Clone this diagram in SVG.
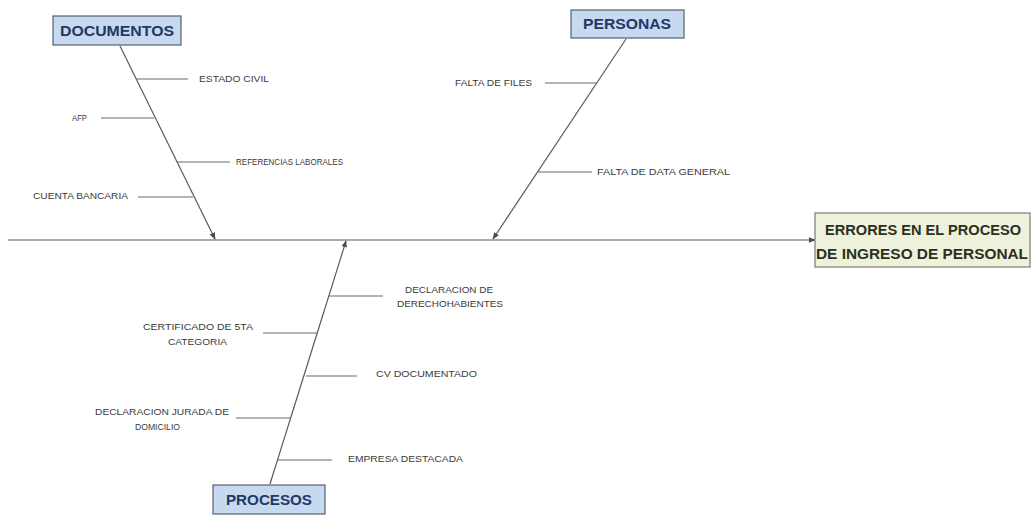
<svg xmlns="http://www.w3.org/2000/svg" width="1034" height="517" viewBox="0 0 1034 517">
  <style>
    .line { stroke: #5a5a5a; stroke-width: 1.2; fill: none; }
    .rib { stroke: #6a6a6a; stroke-width: 1.2; }
    .lbl { font-family: "Liberation Sans", Arial, sans-serif; font-size: 8.5px; fill: #3a3a3a; }
    .cat rect { fill: #c6d9f0; stroke: #55606e; stroke-width: 1.2; }
    .cat text { font-family: "Liberation Sans", Arial, sans-serif; font-weight: bold; font-size: 14px; fill: #1f3864; }
    .head rect { fill: #eef1dc; stroke: #7c7f6a; stroke-width: 1.2; }
    .head text { font-family: "Liberation Sans", Arial, sans-serif; font-weight: bold; font-size: 14px; fill: #2b2f1c; }
  </style>
  <defs>
    <marker id="arrow" viewBox="0 0 10 10" refX="9" refY="5" markerWidth="7" markerHeight="7" orient="auto" markerUnits="userSpaceOnUse">
      <path d="M0,1 L10,5 L0,9 Z" fill="#4a4a4a"/>
    </marker>
  </defs>
  <rect width="1034" height="517" fill="#ffffff"/>

  <!-- connectors: spine, category bones and their ribs -->
  <g id="connectors">
    <line class="line" x1="8" y1="240" x2="815" y2="240" marker-end="url(#arrow)"/>
    <line class="line" x1="120" y1="46" x2="215" y2="239" marker-end="url(#arrow)"/>
    <line class="line" x1="626" y1="39" x2="493" y2="239" marker-end="url(#arrow)"/>
    <line class="line" x1="270" y1="484" x2="346" y2="241" marker-end="url(#arrow)"/>

    <line class="rib" x1="137" y1="79" x2="188" y2="79"/>
    <line class="rib" x1="101" y1="118" x2="154" y2="118"/>
    <line class="rib" x1="177" y1="162" x2="230" y2="162"/>
    <line class="rib" x1="138" y1="197" x2="193" y2="197"/>

    <line class="rib" x1="545" y1="83" x2="597" y2="83"/>
    <line class="rib" x1="538" y1="172" x2="592" y2="172"/>

    <line class="rib" x1="329" y1="296" x2="383" y2="296"/>
    <line class="rib" x1="263" y1="333" x2="318" y2="333"/>
    <line class="rib" x1="306" y1="376" x2="357" y2="376"/>
    <line class="rib" x1="236" y1="418" x2="291" y2="418"/>
    <line class="rib" x1="278" y1="460" x2="332" y2="460"/>
  </g>

  <!-- cause labels -->
  <g id="causes">
    <text class="lbl" x="199" y="82" textLength="70" lengthAdjust="spacingAndGlyphs">ESTADO CIVIL</text>
    <text class="lbl" x="72" y="121" textLength="15" lengthAdjust="spacingAndGlyphs">AFP</text>
    <text class="lbl" x="236" y="165" textLength="107" lengthAdjust="spacingAndGlyphs">REFERENCIAS LABORALES</text>
    <text class="lbl" x="33" y="199" textLength="95" lengthAdjust="spacingAndGlyphs">CUENTA BANCARIA</text>

    <text class="lbl" x="455" y="86" textLength="77" lengthAdjust="spacingAndGlyphs">FALTA DE FILES</text>
    <text class="lbl" x="597" y="175" textLength="133" lengthAdjust="spacingAndGlyphs">FALTA DE DATA GENERAL</text>

    <text class="lbl" x="405" y="293" textLength="88" lengthAdjust="spacingAndGlyphs">DECLARACION DE</text>
    <text class="lbl" x="397" y="307" textLength="106" lengthAdjust="spacingAndGlyphs">DERECHOHABIENTES</text>
    <text class="lbl" x="143" y="330" textLength="110" lengthAdjust="spacingAndGlyphs">CERTIFICADO DE 5TA</text>
    <text class="lbl" x="168" y="345" textLength="59" lengthAdjust="spacingAndGlyphs">CATEGORIA</text>
    <text class="lbl" x="376" y="377" textLength="101" lengthAdjust="spacingAndGlyphs">CV DOCUMENTADO</text>
    <text class="lbl" x="95" y="415" textLength="134" lengthAdjust="spacingAndGlyphs">DECLARACION JURADA DE</text>
    <text class="lbl" x="135" y="430" textLength="45" lengthAdjust="spacingAndGlyphs">DOMICILIO</text>
    <text class="lbl" x="348" y="462" textLength="115" lengthAdjust="spacingAndGlyphs">EMPRESA DESTACADA</text>
  </g>

  <!-- category boxes -->
  <g id="documentos" class="cat">
    <rect x="53" y="16" width="128" height="29"/>
    <text x="117" y="36" text-anchor="middle" textLength="114" lengthAdjust="spacingAndGlyphs">DOCUMENTOS</text>
  </g>
  <g id="personas" class="cat">
    <rect x="571" y="10" width="113" height="28"/>
    <text x="627" y="29" text-anchor="middle" textLength="88" lengthAdjust="spacingAndGlyphs">PERSONAS</text>
  </g>
  <g id="procesos" class="cat">
    <rect x="213" y="485" width="112" height="29"/>
    <text x="269" y="505" text-anchor="middle" textLength="86" lengthAdjust="spacingAndGlyphs">PROCESOS</text>
  </g>

  <!-- effect box -->
  <g id="efecto" class="head">
    <rect x="815" y="213" width="215" height="54"/>
    <text x="923" y="235" text-anchor="middle" textLength="196" lengthAdjust="spacingAndGlyphs">ERRORES EN EL PROCESO</text>
    <text x="922" y="259" text-anchor="middle" textLength="212" lengthAdjust="spacingAndGlyphs">DE INGRESO DE PERSONAL</text>
  </g>
</svg>
